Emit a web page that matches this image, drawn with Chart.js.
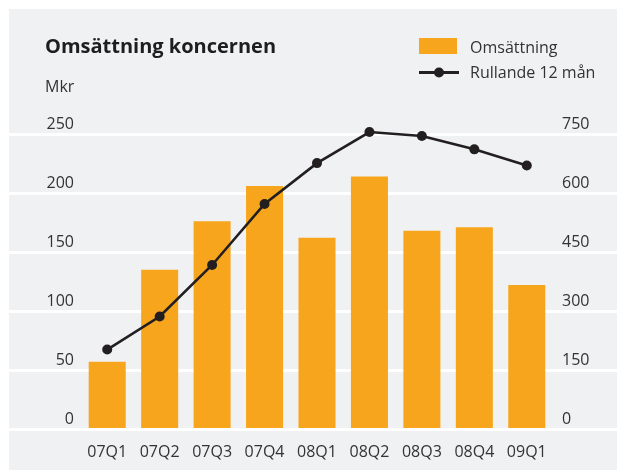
<!DOCTYPE html>
<html>
<head>
<meta charset="utf-8">
<script src="https://cdn.jsdelivr.net/npm/chart.js@4"></script>
<style>
  html, body { margin: 0; padding: 0; background: #fff; }
  canvas { display: block; }
</style>
</head>
<body>
<canvas id="chart" width="617" height="470"></canvas>
<script>
const quarters = ["07Q1", "07Q2", "07Q3", "07Q4", "08Q1", "08Q2", "08Q3", "08Q4", "09Q1"];
const omsattning = [57, 135, 176, 206, 162, 214, 168, 171, 122];
const rullande12 = [202, 286, 417, 572, 676, 755, 745, 711, 670];
const leftTicks = [0, 50, 100, 150, 200, 250];
const rightTicks = [0, 150, 300, 450, 600, 750];

const title = "Omsättning koncernen";
const unitLabel = "Mkr";

const orange = "#F7A51C";
const dark = "#231F20";
const panel = "#F0F1F3";
const textColor = "#333333";
const font = "'Open Sans', sans-serif";

// panel, full-width grid lines, title and legend
const decor = {
    id: "decor",
    beforeDraw(chart) {
        const ctx = chart.ctx;
        ctx.save();
        ctx.fillStyle = panel;
        ctx.fillRect(9, 9, chart.width - 9, chart.height - 9);
        ctx.restore();
    },
    beforeDatasetsDraw(chart) {
        const ctx = chart.ctx;
        const y = chart.scales.y;
        ctx.save();
        ctx.strokeStyle = "#ffffff";
        ctx.lineWidth = 3;
        leftTicks.forEach(v => {
            if (v === 0) return;
            const py = Math.round(y.getPixelForValue(v)) + 0.5;
            ctx.beginPath();
            ctx.moveTo(9, py);
            ctx.lineTo(chart.width, py);
            ctx.stroke();
        });
        ctx.restore();
    },
    afterDatasetsDraw(chart) {
        const ctx = chart.ctx;
        const y = chart.scales.y;
        ctx.save();
        // zero line sits over the bars
        ctx.strokeStyle = "#ffffff";
        ctx.lineWidth = 3;
        const py = Math.round(y.getPixelForValue(0)) + 0.5;
        ctx.beginPath();
        ctx.moveTo(9, py);
        ctx.lineTo(chart.width, py);
        ctx.stroke();

        // title + unit
        ctx.fillStyle = "#1e1e1e";
        ctx.textBaseline = "alphabetic";
        ctx.textAlign = "left";
        ctx.font = "bold 20px " + font;
        ctx.fillText(title, 45, 52.5);
        ctx.fillStyle = textColor;
        ctx.font = "16px " + font;
        ctx.fillText(unitLabel, 45, 91.5);

        // legend
        const ds = chart.data.datasets;
        ctx.fillStyle = ds[0].backgroundColor;
        ctx.fillRect(419, 38, 38, 16);
        ctx.fillStyle = textColor;
        ctx.fillText(ds[0].label, 470, 52.5);

        ctx.strokeStyle = ds[1].borderColor;
        ctx.lineWidth = 3;
        ctx.beginPath();
        ctx.moveTo(419, 72.5);
        ctx.lineTo(459, 72.5);
        ctx.stroke();
        ctx.fillStyle = ds[1].borderColor;
        ctx.beginPath();
        ctx.arc(439, 72.5, 5, 0, Math.PI * 2);
        ctx.fill();
        ctx.fillStyle = textColor;
        ctx.fillText(ds[1].label, 470, 77.5);
        ctx.restore();
    }
};

const ctx = document.getElementById("chart").getContext("2d");

new Chart(ctx, {
    type: "bar",
    data: {
        labels: quarters,
        datasets: [
            {
                type: "bar",
                label: "Omsättning",
                data: omsattning,
                backgroundColor: orange,
                categoryPercentage: 1,
                barPercentage: 0.706,
                yAxisID: "y",
                order: 1
            },
            {
                type: "line",
                label: "Rullande 12 mån",
                data: rullande12,
                borderColor: dark,
                backgroundColor: dark,
                borderWidth: 2.6,
                pointRadius: 5,
                pointBorderWidth: 0,
                pointBackgroundColor: dark,
                tension: 0,
                clip: false,
                yAxisID: "y2",
                order: 0
            }
        ]
    },
    options: {
        responsive: false,
        animation: false,
        devicePixelRatio: 1,
        layout: { padding: { top: 134, left: 0, right: 0, bottom: 0 } },
        plugins: {
            legend: { display: false },
            title: { display: false },
            tooltip: { enabled: false }
        },
        scales: {
            x: {
                grid: { display: false, drawTicks: false },
                border: { display: false },
                ticks: { color: textColor, font: { family: font, size: 16 }, padding: 14 },
                afterFit: s => { s.height = 41; }
            },
            y: {
                position: "left",
                min: 0,
                max: 250,
                afterBuildTicks: s => { s.ticks = leftTicks.map(v => ({ value: v })); },
                grid: { display: false, drawTicks: false },
                border: { display: false },
                ticks: { color: textColor, font: { family: font, size: 16 }, padding: 7, labelOffset: -10 },
                afterFit: s => { s.width = 81; }
            },
            y2: {
                position: "right",
                min: 0,
                max: 750,
                afterBuildTicks: s => { s.ticks = rightTicks.map(v => ({ value: v })); },
                grid: { display: false, drawTicks: false },
                border: { display: false },
                ticks: { color: textColor, font: { family: font, size: 16 }, padding: 9, labelOffset: -10 },
                afterFit: s => { s.width = 64; }
            }
        }
    },
    plugins: [decor]
});
</script>
</body>
</html>
